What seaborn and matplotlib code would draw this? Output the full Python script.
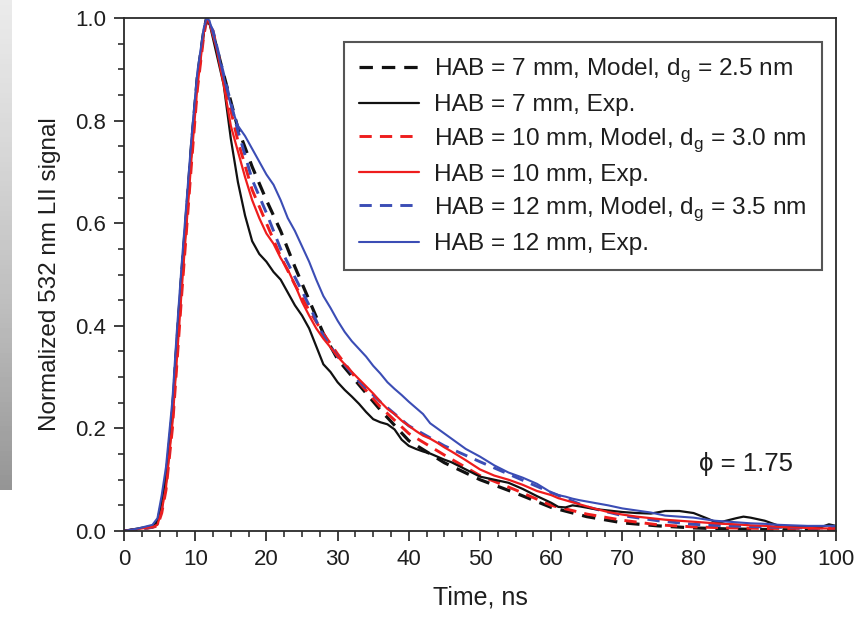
import numpy as np
import matplotlib
matplotlib.use('Agg')
import matplotlib.pyplot as plt
import seaborn as sns
from matplotlib.ticker import MultipleLocator

# --- data (time in ns, normalized signal) ---
t_model = [0, 2, 4, 4.7, 5.3, 5.9, 6.8, 7.4, 8.1, 8.8, 9.5, 10.3, 11.2, 11.6,
           12.5, 14, 16, 18, 20, 22, 24, 26, 28, 30, 33, 36, 40, 45, 50, 55,
           60, 65, 70, 75, 80, 85, 90, 95, 100]

model_7 = [0.0, 0.003, 0.008, 0.015, 0.05, 0.10, 0.23, 0.36, 0.50, 0.625, 0.755, 0.885, 0.975, 1.0,
           0.97, 0.89, 0.785, 0.71, 0.645, 0.585, 0.515, 0.45, 0.385, 0.335, 0.285, 0.236, 0.176, 0.133, 0.10, 0.074,
           0.046, 0.028, 0.016, 0.01, 0.006, 0.004, 0.003, 0.002, 0.002]

model_10 = [0.0, 0.003, 0.007, 0.01, 0.035, 0.08, 0.20, 0.32, 0.46, 0.59, 0.72, 0.86, 0.965, 0.995,
            0.975, 0.88, 0.76, 0.665, 0.60, 0.535, 0.48, 0.43, 0.385, 0.345, 0.29, 0.242, 0.19, 0.148, 0.108, 0.08,
            0.05, 0.033, 0.021, 0.012, 0.008, 0.006, 0.005, 0.005, 0.005]

model_12 = [0.0, 0.003, 0.008, 0.014, 0.045, 0.095, 0.225, 0.35, 0.49, 0.62, 0.75, 0.88, 0.972, 1.0,
            0.975, 0.89, 0.78, 0.685, 0.62, 0.55, 0.495, 0.44, 0.38, 0.34, 0.292, 0.252, 0.205, 0.166, 0.135, 0.105,
            0.075, 0.047, 0.03, 0.02, 0.013, 0.01, 0.008, 0.006, 0.006]

t_exp = [0, 2, 4, 4.7, 5.3, 5.9, 6.8, 7.4, 8.1, 8.8, 9.5, 10.3, 11.2, 11.6,
         12, 13, 14, 15, 16, 17, 18, 19, 20, 21, 22, 23, 24, 25, 26, 27, 28, 29,
         30, 31, 32, 33, 34, 35, 36, 37, 38, 39, 40, 41, 42, 43, 44, 45, 46,
         48, 50, 52, 54, 56, 58, 60, 61, 62, 63, 64, 66, 68, 70, 72, 74, 76, 78,
         80, 82, 83, 84, 86, 87, 88, 90, 92, 94, 96, 98, 99, 100]

exp_7 = [0.0, 0.005, 0.01, 0.02, 0.06, 0.11, 0.24, 0.37, 0.505, 0.63, 0.76, 0.885, 0.975, 1.0,
         0.99, 0.93, 0.87, 0.765, 0.68, 0.615, 0.565, 0.54, 0.525, 0.505, 0.49, 0.465, 0.44, 0.42, 0.395, 0.36, 0.325, 0.31,
         0.29, 0.275, 0.262, 0.248, 0.232, 0.218, 0.212, 0.208, 0.198, 0.178, 0.166, 0.16, 0.155, 0.151, 0.145, 0.139, 0.134,
         0.12, 0.106, 0.10, 0.094, 0.082, 0.068, 0.055, 0.047, 0.046, 0.05, 0.048, 0.043, 0.04, 0.037, 0.035, 0.034, 0.039, 0.039,
         0.035, 0.024, 0.018, 0.018, 0.025, 0.028, 0.026, 0.02, 0.01, 0.008, 0.008, 0.008, 0.013, 0.01]

exp_10 = [0.0, 0.004, 0.008, 0.012, 0.04, 0.085, 0.21, 0.33, 0.47, 0.60, 0.73, 0.865, 0.97, 1.0,
          0.99, 0.94, 0.87, 0.79, 0.74, 0.69, 0.645, 0.61, 0.58, 0.56, 0.532, 0.51, 0.48, 0.447, 0.42, 0.395, 0.375, 0.358,
          0.34, 0.325, 0.31, 0.296, 0.282, 0.268, 0.252, 0.238, 0.228, 0.215, 0.205, 0.195, 0.186, 0.18, 0.172, 0.163, 0.155,
          0.138, 0.12, 0.108, 0.10, 0.09, 0.078, 0.07, 0.064, 0.06, 0.056, 0.052, 0.044, 0.037, 0.032, 0.028, 0.025, 0.022, 0.02,
          0.018, 0.016, 0.015, 0.014, 0.013, 0.012, 0.011, 0.01, 0.008, 0.007, 0.006, 0.005, 0.005, 0.005]

exp_12 = [0.0, 0.005, 0.012, 0.025, 0.07, 0.125, 0.255, 0.385, 0.52, 0.645, 0.77, 0.895, 0.98, 1.0,
          0.995, 0.945, 0.885, 0.83, 0.79, 0.77, 0.745, 0.72, 0.695, 0.675, 0.645, 0.61, 0.585, 0.555, 0.525, 0.49, 0.458, 0.435,
          0.41, 0.388, 0.37, 0.355, 0.34, 0.322, 0.307, 0.29, 0.277, 0.265, 0.252, 0.24, 0.228, 0.21, 0.2, 0.19, 0.18,
          0.16, 0.145, 0.128, 0.114, 0.104, 0.092, 0.075, 0.07, 0.067, 0.063, 0.06, 0.055, 0.05, 0.044, 0.04, 0.036, 0.03, 0.028,
          0.026, 0.022, 0.02, 0.019, 0.017, 0.016, 0.015, 0.014, 0.012, 0.011, 0.01, 0.01, 0.01, 0.01]

labels = ['HAB = 7 mm, Model, d$_\\mathregular{g}$ = 2.5 nm',
          'HAB = 7 mm, Exp.',
          'HAB = 10 mm, Model, d$_\\mathregular{g}$ = 3.0 nm',
          'HAB = 10 mm, Exp.',
          'HAB = 12 mm, Model, d$_\\mathregular{g}$ = 3.5 nm',
          'HAB = 12 mm, Exp.']

BLACK = '#111111'
RED = '#ee1d1d'
BLUE = '#3b4db5'
TXT = '#1e1e1e'

sns.set_style('ticks')
plt.rcParams['font.family'] = ['Liberation Sans', 'DejaVu Sans']
plt.rcParams['mathtext.fontset'] = 'custom'
plt.rcParams['mathtext.rm'] = 'Liberation Sans'

fig = plt.figure(figsize=(8.55, 6.25), dpi=100)
ax = fig.add_axes([124 / 855, 1 - 531 / 625, 712 / 855, 513 / 625])

dash = (0, (4.2, 2.8))
series = [
    (t_model, model_7, BLACK, dash, 2.3),
    (t_exp, exp_7, BLACK, '-', 1.6),
    (t_model, model_10, RED, dash, 2.1),
    (t_exp, exp_10, RED, '-', 1.6),
    (t_model, model_12, BLUE, dash, 2.1),
    (t_exp, exp_12, BLUE, '-', 1.5),
]
# draw model curves under the experimental ones
order = [0, 2, 4, 1, 3, 5]
lines = {}
for i in order:
    tx, vy, col, ls, lw = series[i]
    assert len(tx) == len(vy)
    sns.lineplot(x=tx, y=vy, ax=ax, color=col, linestyle=ls, linewidth=lw,
                 label=labels[i], legend=False)
    lines[i] = ax.get_lines()[-1]

ax.set_xlim(0, 100)
ax.set_ylim(0, 1.0)
ax.xaxis.set_major_locator(MultipleLocator(10))
ax.xaxis.set_minor_locator(MultipleLocator(2.5))
ax.yaxis.set_major_locator(MultipleLocator(0.2))
ax.yaxis.set_minor_locator(MultipleLocator(0.05))
ax.yaxis.set_major_formatter(plt.FuncFormatter(lambda v, p: f'{v:.1f}'))
ax.tick_params(which='major', direction='out', length=7, width=1.2, labelsize=16,
               colors=TXT, pad=6)
ax.tick_params(which='minor', direction='out', length=4, width=1.1, colors=TXT)
for s in ax.spines.values():
    s.set_linewidth(1.3)
    s.set_color('#2a2a2a')

ax.set_xlabel('Time, ns', fontsize=18, color=TXT, labelpad=11)
ax.set_ylabel('Normalized 532 nm LII signal', fontsize=17.5, color=TXT, labelpad=10)

ax.text(80.8, 0.13, '\u03d5 = 1.75', fontsize=18.5, color=TXT, va='center')

handles = [lines[i] for i in range(6)]
leg = ax.legend(handles, labels, loc='upper right', bbox_to_anchor=(0.98, 0.953),
                fontsize=17.6, frameon=True, fancybox=False, handlelength=2.45,
                labelspacing=0.4, borderpad=0.6, handletextpad=0.65, borderaxespad=0)
leg.get_frame().set_edgecolor('#2a2a2a')
leg.get_frame().set_linewidth(1.5)
for txt in leg.get_texts():
    txt.set_color(TXT)

# grey strip at the left edge of the scanned figure
gax = fig.add_axes([0, 1 - 490 / 625, 11 / 855, 490 / 625])
grad = np.linspace(0.15, 0.5, 100).reshape(-1, 1)
gax.imshow(grad, aspect='auto', cmap='Greys', vmin=0, vmax=1)
gax.axis('off')

fig.savefig('out.png', dpi=100)
